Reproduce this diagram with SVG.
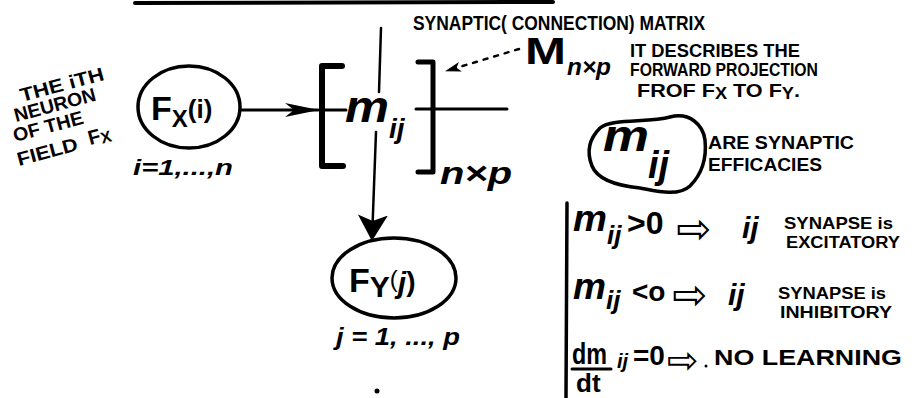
<svg xmlns="http://www.w3.org/2000/svg" width="920" height="398" viewBox="0 0 920 398">
<defs>
<style>
.ink{fill:none;stroke:#000;stroke-linecap:round;stroke-linejoin:round}
.t{font-family:"Liberation Sans","DejaVu Sans",sans-serif;font-weight:bold;fill:#000}
.math{font-family:"Liberation Sans","DejaVu Sans",sans-serif;font-weight:bold;fill:#000}
.sym{font-family:"DejaVu Sans",sans-serif;fill:#000}
</style>
<marker id="head" viewBox="0 0 34 16" markerWidth="34" markerHeight="16" refX="33" refY="8" orient="auto" markerUnits="userSpaceOnUse"><path d="M0,1 L34,8 L0,15 L9,8 Z" fill="#000"/></marker>
<marker id="head2" viewBox="0 0 26 30" markerWidth="26" markerHeight="30" refX="25" refY="15" orient="auto" markerUnits="userSpaceOnUse"><path d="M0,0 L26,15 L0,30 L6,15 Z" fill="#000"/></marker>
<marker id="barb" viewBox="0 0 16 12" markerWidth="16" markerHeight="12" refX="15" refY="6" orient="auto" markerUnits="userSpaceOnUse"><path d="M0,1 L16,6 L0,11 L4,6 Z" fill="#000"/></marker>
</defs>
<rect width="920" height="398" fill="#fff"/>

<!-- top bar -->
<line class="ink" x1="135" y1="3" x2="553" y2="2" stroke-width="4"/>

<!-- left note -->
<g id="note-left">
<text class="t" font-size="19" transform="translate(22,102) rotate(-15)" textLength="86" lengthAdjust="spacingAndGlyphs">THE iTH</text>
<text class="t" font-size="19" transform="translate(16,122) rotate(-15)" textLength="84" lengthAdjust="spacingAndGlyphs">NEURON</text>
<text class="t" font-size="19" transform="translate(15,142) rotate(-15)" textLength="72" lengthAdjust="spacingAndGlyphs">OF THE</text>
<text class="t" font-size="19" transform="translate(19,166) rotate(-15)" textLength="62" lengthAdjust="spacingAndGlyphs">FIELD</text>
<text class="t" font-size="20" transform="translate(90,145) rotate(-15)">F<tspan font-size="16" dy="2">X</tspan></text>
</g>

<!-- Fx(i) node -->
<g id="node-fx">
<ellipse class="ink" cx="189" cy="107" rx="51" ry="41" stroke-width="3.5"/>
<text class="math" x="151" y="120" font-size="34">F<tspan font-size="24" dy="7">X</tspan><tspan font-size="26" dy="-9">(i)</tspan></text>
<text class="math" x="133" y="175" font-size="22" font-style="italic" textLength="100" lengthAdjust="spacingAndGlyphs">i=1,...,n</text>
</g>

<!-- matrix -->
<g id="node-matrix">
<path class="ink" d="M342,66 L322,66 L322,166 L343,166" stroke-width="6"/>
<path class="ink" d="M418,62 L433,62 L433,172 L418,172" stroke-width="5"/>
<line class="ink" x1="322" y1="110" x2="346" y2="110" stroke-width="3"/>
<line class="ink" x1="416" y1="109" x2="507" y2="109" stroke-width="3"/>
<line class="ink" x1="381" y1="28" x2="379" y2="92" stroke-width="2.5"/>
<text class="math" x="345" y="122" font-size="44" font-style="italic" textLength="44" lengthAdjust="spacingAndGlyphs">m</text>
<text class="math" x="389" y="138" font-size="28" font-style="italic">ij</text>
<text class="math" x="440" y="184" font-size="32" font-style="italic" textLength="72" lengthAdjust="spacingAndGlyphs">n×p</text>
</g>

<!-- matrix label -->
<g id="label-matrix">
<text class="t" x="413" y="30" font-size="21" textLength="292" lengthAdjust="spacingAndGlyphs">SYNAPTIC( CONNECTION) MATRIX</text>
<text class="math" x="525" y="64" font-size="36" font-weight="900" textLength="41" lengthAdjust="spacingAndGlyphs">M</text>
<text class="math" x="567" y="75" font-size="24" font-style="italic" textLength="44" lengthAdjust="spacingAndGlyphs">n×p</text>
<text class="t" x="630" y="57" font-size="18" textLength="170" lengthAdjust="spacingAndGlyphs">IT DESCRIBES THE</text>
<text class="t" x="630" y="76" font-size="18" textLength="188" lengthAdjust="spacingAndGlyphs">FORWARD PROJECTION</text>
<text class="t" x="637" y="97" font-size="19" textLength="163" lengthAdjust="spacingAndGlyphs">FROF F<tspan font-size="16" dy="2">X</tspan><tspan dy="-2"> TO F</tspan><tspan font-size="16" dy="2">Y</tspan><tspan dy="-2">.</tspan></text>
</g>

<!-- efficacies blob -->
<g id="node-efficacies">
<path class="ink" stroke-width="3.5" d="M600,128 C612,118 648,123 670,117 C690,112 703,125 705,140 C707,160 701,175 690,186 C678,197 656,191 640,188 C620,186 598,181 592,166 C586,151 590,138 600,128 Z"/>
<text class="math" x="603" y="151" font-size="44" font-style="italic" textLength="46" lengthAdjust="spacingAndGlyphs">m</text>
<text class="math" x="648" y="178" font-size="38" font-style="italic">ij</text>
<text class="t" x="708" y="149" font-size="19" textLength="146" lengthAdjust="spacingAndGlyphs">ARE SYNAPTIC</text>
<text class="t" x="708" y="171" font-size="19" textLength="114" lengthAdjust="spacingAndGlyphs">EFFICACIES</text>
</g>

<!-- conditions -->
<g id="node-conditions">
<line class="ink" x1="567" y1="203" x2="566" y2="398" stroke-width="3.5"/>
<text class="math" x="573" y="231" font-size="36" font-style="italic" textLength="34" lengthAdjust="spacingAndGlyphs">m</text>
<text class="math" x="607" y="244" font-size="26" font-style="italic">ij</text>
<text class="math" x="627" y="234" font-size="32">&gt;0</text>
<text class="sym" x="676" y="243" font-size="42">⇨</text>
<text class="math" x="742" y="238" font-size="30" font-style="italic">ij</text>
<text class="t" x="784" y="229" font-size="17" textLength="109" lengthAdjust="spacingAndGlyphs">SYNAPSE is</text>
<text class="t" x="786" y="248" font-size="16" textLength="114" lengthAdjust="spacingAndGlyphs">EXCITATORY</text>

<text class="math" x="573" y="299" font-size="36" font-style="italic" textLength="33" lengthAdjust="spacingAndGlyphs">m</text>
<text class="math" x="606" y="309" font-size="26" font-style="italic">ij</text>
<text class="math" x="632" y="301" font-size="28">&lt;o</text>
<text class="sym" x="672" y="309" font-size="42">⇨</text>
<text class="math" x="728" y="305" font-size="30" font-style="italic">ij</text>
<text class="t" x="778" y="299" font-size="16" textLength="108" lengthAdjust="spacingAndGlyphs">SYNAPSE is</text>
<text class="t" x="780" y="318" font-size="16" textLength="112" lengthAdjust="spacingAndGlyphs">INHIBITORY</text>

<text class="math" x="572" y="364" font-size="30" textLength="35" lengthAdjust="spacingAndGlyphs">dm</text>
<line class="ink" x1="572" y1="369" x2="611" y2="369" stroke-width="3"/>
<text class="math" x="576" y="392" font-size="26">dt</text>
<text class="math" x="617" y="368" font-size="20" font-style="italic">ij</text>
<text class="math" x="633" y="365" font-size="28">=0</text>
<text class="sym" x="667" y="373" font-size="38">⇨</text>
<circle cx="706" cy="366" r="1.5" fill="#000"/>
<text class="t" x="714" y="365" font-size="22" textLength="188" lengthAdjust="spacingAndGlyphs">NO LEARNING</text>
</g>

<!-- Fy(j) node -->
<g id="node-fy">
<ellipse class="ink" cx="394" cy="278" rx="62" ry="40" stroke-width="3.5"/>
<text class="math" x="349" y="292" font-size="34">F<tspan font-size="30" dy="5">Y</tspan><tspan font-size="24" dy="-10" font-weight="normal">(</tspan><tspan font-size="30" dy="6" font-style="italic">j</tspan><tspan font-size="28" dy="-2">)</tspan></text>
<text class="math" x="336" y="345" font-size="24" font-style="italic" textLength="124" lengthAdjust="spacingAndGlyphs">j = 1, ..., p</text>
</g>

<circle cx="377" cy="391" r="2.5" fill="#000"/>

<!-- connectors -->
<g id="connectors">
<line class="ink" x1="241" y1="110" x2="318" y2="110" stroke-width="3" marker-end="url(#head)"/>
<line class="ink" x1="376" y1="132" x2="372" y2="240" stroke-width="2.5" marker-end="url(#head2)"/>
<line class="ink" x1="519" y1="49" x2="446" y2="71" stroke-width="2.5" stroke-dasharray="4 7" marker-end="url(#barb)"/>
</g>
</svg>
